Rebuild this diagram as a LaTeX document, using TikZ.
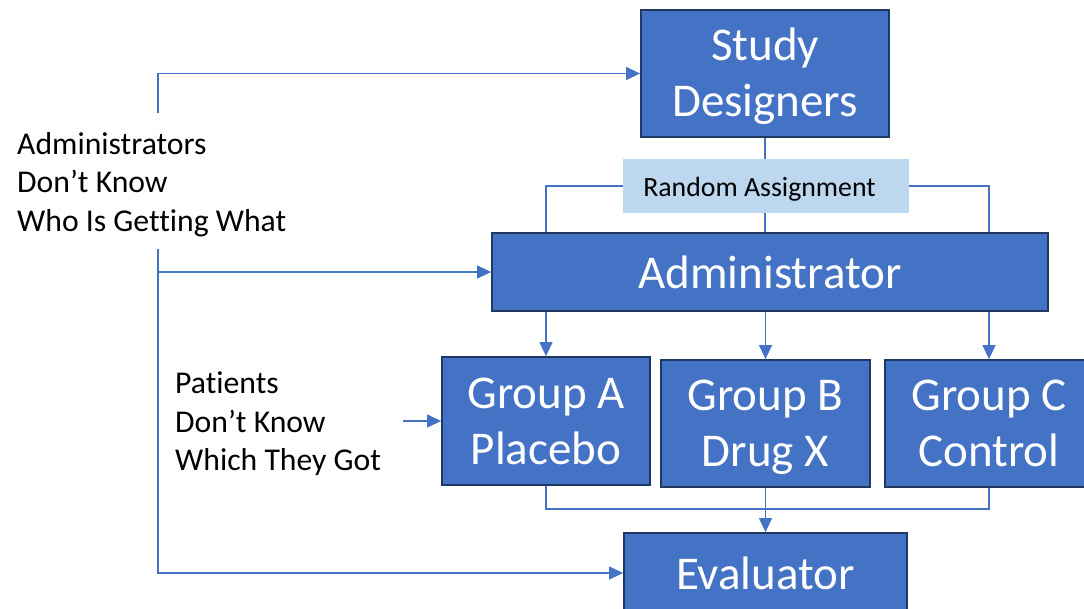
\documentclass[tikz,border=0pt]{standalone}
\usepackage{fontspec}
\setmainfont{Carlito}[Ligatures=NoCommon]
\usetikzlibrary{arrows.meta}
\definecolor{boxblue}{HTML}{4472C4}
\definecolor{boxedge}{HTML}{1F3864}
\definecolor{lightblue}{HTML}{BDD7EE}
\newcommand{\topstrut}{\rule{0pt}{40pt}}
\newcommand{\botstrut}{\rule[-10pt]{0pt}{0pt}}
\begin{document}
\begin{tikzpicture}[x=1pt,y=-1pt,
  bigbox/.style={draw=boxedge, line width=1.8pt, fill=boxblue, text=white, inner sep=0pt, align=center, font=\fontsize{47}{56}\selectfont},
  conn/.style={draw=boxblue, line width=1.3pt},
  arr/.style={conn, -{Triangle[length=14pt,width=13pt]}},
  sidetext/.style={align=left, anchor=west, inner sep=0pt, font=\fontsize{31.7}{38.5}\selectfont}]
\useasboundingbox (0,0) rectangle (1084,608);
\node[bigbox, minimum width=248pt, minimum height=127pt] (sd) at (765,73.5) {\topstrut Study\\Designers\botstrut};
\node[fill=lightblue, inner sep=0pt, minimum width=286pt, minimum height=54pt, text height=22pt, text depth=2pt, font=\fontsize{27.8}{33}\selectfont] (ra) at (766,186) {Random Assignment\hspace*{13pt}};
\node[bigbox, minimum width=556pt, minimum height=78pt] (adm) at (770,272) {Administrator};
\node[bigbox, minimum width=208pt, minimum height=128pt] (ga) at (546,421) {\topstrut Group A\\Placebo\botstrut};
\node[bigbox, minimum width=209pt, minimum height=127pt] (gb) at (765.5,423.5) {\topstrut Group B\\Drug X\botstrut};
\node[bigbox, minimum width=208pt, minimum height=127pt] (gc) at (989,423.5) {\topstrut Group C\\Control\botstrut};
\node[bigbox, minimum width=283pt, minimum height=80pt] (ev) at (765.5,573) {Evaluator};
\node[sidetext] (admtxt) at (17,184.5) {Administrators\\Don’t Know\\Who Is Getting What};
\node[sidetext] (pattxt) at (175,424) {Patients\\Don’t Know\\Which They Got};
\coordinate (a1) at (158,113);
\coordinate (a2) at (158,249);
\coordinate (a3) at (158,272);
\coordinate (p1) at (403,421);
\coordinate (j) at (765.5,509);
\draw[arr] (a1) |- (sd.west);
\draw[arr] (a2) |- (ev.west);
\draw[arr] (a3) -- (adm.west);
\draw[arr] (p1) -- (ga.west);
\draw[conn] (sd.south) -- (sd.south |- ra.north);
\draw[conn] (ra.west) -| (ga.north |- adm.north);
\draw[conn] (ra.east) -| (gc.north |- adm.north);
\draw[conn] (sd.south |- ra.south) -- (sd.south |- adm.north);
\draw[arr] (ga.north |- adm.south) -- (ga.north);
\draw[arr] (gb.north |- adm.south) -- (gb.north);
\draw[arr] (gc.north |- adm.south) -- (gc.north);
\draw[conn] (ga.south) |- (j);
\draw[conn] (gc.south) |- (j);
\draw[arr] (gb.south) -- (ev.north);
\end{tikzpicture}
\end{document}
